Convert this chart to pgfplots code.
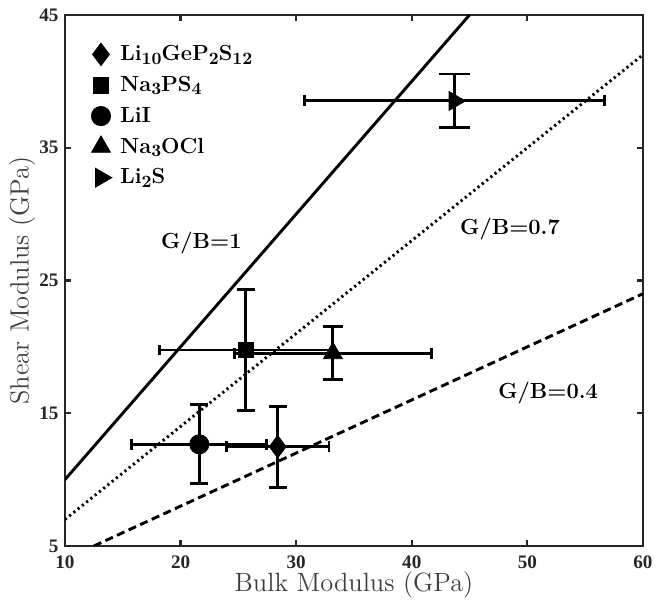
\documentclass[border=0pt]{standalone}
\usepackage{fontspec}
\usepackage{pgfplots}
\pgfplotsset{compat=1.18}
\newfontfamily\tickfont{Liberation Serif}
\definecolor{axgray}{HTML}{262626}
\definecolor{labgray}{HTML}{3F3F3F}
\newcommand{\sub}[1]{\raisebox{-0.35ex}{\fontsize{9.5}{11}\selectfont\bfseries #1}}
\begin{document}
\begin{tikzpicture}
\begin{axis}[
  scale only axis,
  width=317.6pt, height=291.8pt,
  xmin=10, xmax=60, ymin=5, ymax=45,
  xtick={10,20,30,40,50,60},
  ytick={5,15,25,35,45},
  tick align=inside,
  major tick length=3.3pt,
  axis line style={axgray, line width=1.4pt},
  every tick/.style={axgray, line width=1.2pt},
  /pgf/number format/assume math mode=true,
  ticklabel style={font=\tickfont\bfseries\fontsize{10.5}{12}\selectfont, text=axgray},
  xticklabel style={yshift=-1.8pt},
  xlabel={Bulk Modulus (GPa)},
  ylabel={Shear Modulus (GPa)},
  label style={font=\fontsize{14.5}{16}\selectfont, text=labgray},
  xlabel style={at={(axis description cs:0.5,0)}, anchor=center, yshift=-21.4pt},
  ylabel style={at={(axis description cs:0,0.5)}, anchor=center, yshift=23.6pt},
  legend style={draw=none, fill=none, at={(0.045,0.957)}, anchor=north west,
    font=\bfseries\boldmath\fontsize{12}{15}\selectfont, row sep=3.1pt, column sep=2.5pt,
    inner xsep=0pt},
  legend cell align=left,
  clip=true,
  errx/.style={forget plot, black, only marks, mark=none, line width=1.6pt,
    error bars/.cd, x dir=both, x explicit,
    error bar style={line width=1.6pt, black},
    error mark options={rotate=90, line width=1.6pt, mark size=#1}},
  errx/.default=3pt,
  erry/.style={forget plot, black, only marks, mark=none, line width=1.6pt,
    error bars/.cd, y dir=both, y explicit,
    error bar style={line width=1.6pt, black},
    error mark options={rotate=90, line width=1.6pt, mark size=#1}},
  erry/.default=5pt,
]
\addplot[forget plot, black, line width=1.6pt] coordinates {(10,10) (45,45)};
\addplot[forget plot, black, line width=1.6pt, dash pattern=on 1.2pt off 1.8pt] coordinates {(10,7) (60,42)};
\addplot[forget plot, black, line width=1.6pt, dash pattern=on 4.5pt off 2.5pt] coordinates {(12.5,5) (60,24)};

% error bars
\addplot[errx] coordinates {(28.4,12.48) +- (4.44,0)};
\addplot[erry] coordinates {(28.4,12.48) +- (0,3.05)};
\addplot[errx] coordinates {(25.63,19.76) +- (7.47,0)};
\addplot[erry] coordinates {(25.63,19.76) +- (0,4.57)};
\addplot[errx] coordinates {(21.62,12.66) +- (5.85,0)};
\addplot[erry] coordinates {(21.62,12.66) +- (0,2.98)};
\addplot[errx] coordinates {(33.18,19.52) +- (8.55,0)};
\addplot[erry=5.5pt] coordinates {(33.18,19.52) +- (0,2.0)};
\addplot[errx] coordinates {(43.7,38.52) +- (13.0,0)};
\addplot[erry=8.5pt] coordinates {(43.7,38.52) +- (0,2.03)};

% markers
\addplot[black, only marks, mark=diamond*, mark size=6.2pt] coordinates {(28.4,12.48)};
\addlegendentry{Li\sub{10}GeP\sub{2}S\sub{12}}
\addplot[black, only marks, mark=square*, mark size=4.2pt] coordinates {(25.63,19.76)};
\addlegendentry{Na\sub{3}PS\sub{4}}
\addplot[black, only marks, mark=*, mark size=5.3pt] coordinates {(21.62,12.66)};
\addlegendentry{LiI}
\addplot[black, only marks, mark=triangle*, mark size=6pt] coordinates {(33.18,19.52)};
\addlegendentry{Na\sub{3}OCl}
\addplot[black, only marks, mark=triangle*, mark size=6pt, mark options={rotate=-90}] coordinates {(43.7,38.52)};
\addlegendentry{Li\sub{2}S}

\node[font=\bfseries\fontsize{12}{14}\selectfont] at (axis cs:21.8,27.8) {G/B=1};
\node[font=\bfseries\fontsize{12}{14}\selectfont] at (axis cs:48.5,28.9) {G/B=0.7};
\node[font=\bfseries\fontsize{12}{14}\selectfont] at (axis cs:51.8,16.5) {G/B=0.4};
\end{axis}
\path (current axis.south west) ++(-35.7pt,-29pt);
\path (current axis.north east) ++(13.2pt,8.2pt);
\end{tikzpicture}
\end{document}
